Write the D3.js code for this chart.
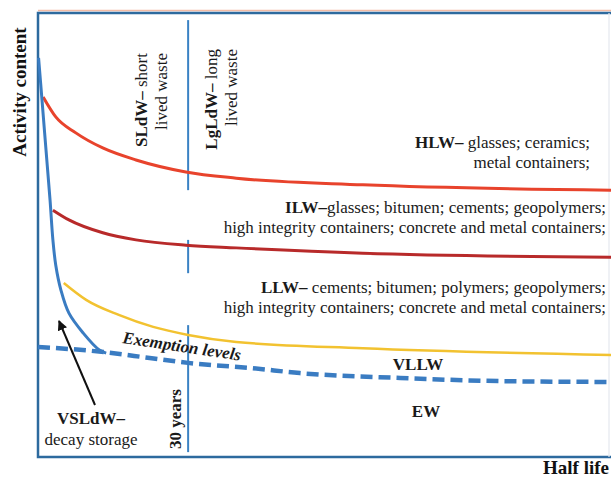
<!DOCTYPE html>
<html>
<head>
<meta charset="utf-8">
<script src="https://cdn.jsdelivr.net/npm/d3@7"></script>
<style>
    body { margin: 0; background: #fff; }
    svg { display: block; font-family: "Liberation Serif", "DejaVu Serif", serif; }
</style>
</head>
<body>
<div id="chart"></div>
<script>
// Curves in arbitrary units: x = half life (0-100), y = activity content (0-100)
const vsldwCurve = [[0.1, 89.9], [0.7, 80.4], [1.4, 69.1], [2.1, 57.9], [2.6, 48.9], [3.1, 43.2], [4.0, 37.6], [5.4, 32.4], [7.9, 27.9], [10.7, 24.1], [11.9, 23.4]];
const hlwCurve = [[0.9, 81.1], [3.1, 76.6], [6.6, 73.0], [11.3, 69.6], [17.1, 66.9], [25.8, 64.2], [34.6, 62.8], [56.7, 61.3], [100, 60.1]];
const ilwCurve = [[2.6, 55.6], [5.4, 53.4], [11.3, 50.5], [17.1, 48.9], [25.8, 47.7], [34.6, 47.1], [56.7, 45.9], [100, 45.0]];
const llwCurve = [[4.5, 39.2], [8.4, 35.4], [14.1, 32.0], [20.1, 29.3], [26.2, 27.5], [34.6, 25.9], [56.7, 24.5], [100, 23.0]];
const exemptionCurve = [[0, 24.8], [11.7, 23.6], [19.5, 22.3], [26.2, 21.2], [37.5, 20.0], [45.7, 18.9], [63.2, 17.8], [80.6, 17.1], [100, 16.9]];

// 30-year boundary, drawn in pieces between the labels
const boundaryX = 26.2;
const boundarySegments = [[98.4, 60.1], [48.9, 41.4], [29.7, 1.1]];

const hlwLabel = ['HLW–', ' glasses; ceramics;', 'metal containers;'];
const ilwLabel = ['ILW–', 'glasses; bitumen; cements; geopolymers;', 'high integrity containers; concrete and metal containers;'];
const llwLabel = ['LLW–', ' cements; bitumen; polymers; geopolymers;', 'high integrity containers; concrete and metal containers;'];

const W = 611, H = 477;
const plot = { left: 38, right: 611, top: 13, bottom: 457 };

const svg = d3.select('#chart').append('svg')
    .attr('width', W)
    .attr('height', H);

const x = d3.scaleLinear().domain([0, 100]).range([plot.left, plot.right]);
const y = d3.scaleLinear().domain([0, 100]).range([plot.bottom, plot.top]);

const line = d3.line()
    .x(d => x(d[0]))
    .y(d => y(d[1]))
    .curve(d3.curveMonotoneX);

// steep decay curve needs a spline that does not overshoot
const steepLine = d3.line()
    .x(d => x(d[0]))
    .y(d => y(d[1]))
    .curve(d3.curveCatmullRom.alpha(0.5));

// Frame
svg.append('line')
    .attr('x1', plot.left).attr('x2', W)
    .attr('y1', plot.top - 2.5).attr('y2', plot.top - 2.5)
    .attr('stroke', '#f2bca6').attr('stroke-width', 1.5);
svg.append('path')
    .attr('d', `M${W},${plot.top}H${plot.left}V${plot.bottom}H${W}`)
    .attr('fill', 'none')
    .attr('stroke', '#2d6a9e')
    .attr('stroke-width', 2.5);
svg.append('line')
    .attr('x1', 609).attr('x2', 609)
    .attr('y1', plot.top).attr('y2', plot.bottom)
    .attr('stroke', '#e4e8ee').attr('stroke-width', 1.2);

// Boundary line (30 years)
svg.selectAll('.boundary')
    .data(boundarySegments)
    .enter()
    .append('line')
    .attr('class', 'boundary')
    .attr('x1', x(boundaryX)).attr('x2', x(boundaryX))
    .attr('y1', d => y(d[0])).attr('y2', d => y(d[1]))
    .attr('stroke', '#3a82c4')
    .attr('stroke-width', 2);

// Curves
const curves = [
    { data: exemptionCurve, color: '#3a7cc2', width: 4.5, dash: '12,6', gen: line },
    { data: llwCurve, color: '#f2c230', width: 2.5, gen: line },
    { data: ilwCurve, color: '#b82a2a', width: 3, gen: line },
    { data: hlwCurve, color: '#e8432c', width: 3, gen: line },
    { data: vsldwCurve, color: '#3a7cc2', width: 3, gen: steepLine }
];

curves.forEach(c => {
    svg.append('path')
        .datum(c.data)
        .attr('fill', 'none')
        .attr('stroke', c.color)
        .attr('stroke-width', c.width)
        .attr('stroke-dasharray', c.dash || null)
        .attr('d', c.gen);
});

// Arrow to the decay-storage curve
svg.append('defs').append('marker')
    .attr('id', 'arrow')
    .attr('viewBox', '0 0 10 10')
    .attr('refX', 9).attr('refY', 5)
    .attr('markerWidth', 5).attr('markerHeight', 5)
    .attr('orient', 'auto')
    .append('path')
    .attr('d', 'M0,0L10,5L0,10z')
    .attr('fill', '#111');

svg.append('line')
    .attr('x1', 95).attr('y1', 405)
    .attr('x2', 59).attr('y2', 321)
    .attr('stroke', '#111')
    .attr('stroke-width', 2)
    .attr('marker-end', 'url(#arrow)');

// Text helpers
const fs = 17;

function twoLineRight(label, xEnd, y1, y2) {
    const t1 = svg.append('text')
        .attr('x', xEnd).attr('y', y1)
        .attr('text-anchor', 'end')
        .style('font-size', fs + 'px')
        .attr('fill', '#1a1a1a');
    t1.append('tspan').style('font-weight', 'bold').text(label[0]);
    t1.append('tspan').text(label[1]);
    svg.append('text')
        .attr('x', xEnd).attr('y', y2)
        .attr('text-anchor', 'end')
        .style('font-size', fs + 'px')
        .attr('fill', '#1a1a1a')
        .text(label[2]);
}

twoLineRight(hlwLabel, 590, 148, 168);
twoLineRight(ilwLabel, 606, 213, 233);
twoLineRight(llwLabel, 606, 293, 313);

// Vertical labels
function vertical(xBase, yEnd, boldPart, rest, size) {
    const t = svg.append('text')
        .attr('transform', `translate(${xBase},${yEnd}) rotate(-90)`)
        .attr('text-anchor', 'end')
        .style('font-size', (size || fs) + 'px')
        .attr('fill', '#1a1a1a');
    if (boldPart) t.append('tspan').style('font-weight', 'bold').text(boldPart);
    if (rest) t.append('tspan').text(rest);
}

vertical(147, 53, 'SLdW–', ' short');
vertical(167, 53, null, 'lived waste');
vertical(217, 49, 'LgLdW–', ' long');
vertical(237, 49, null, 'lived waste');

svg.append('text')
    .attr('transform', 'translate(181,419) rotate(-90)')
    .attr('text-anchor', 'middle')
    .style('font-size', fs + 'px')
    .style('font-weight', 'bold')
    .attr('fill', '#1a1a1a')
    .text('30 years');

// Axis titles
svg.append('text')
    .attr('transform', 'translate(26,92) rotate(-90)')
    .attr('text-anchor', 'middle')
    .style('font-size', '19px')
    .style('font-weight', 'bold')
    .attr('fill', '#111')
    .text('Activity content');

svg.append('text')
    .attr('x', 609).attr('y', 474)
    .attr('text-anchor', 'end')
    .style('font-size', '19px')
    .style('font-weight', 'bold')
    .attr('fill', '#111')
    .text('Half life');

// Region labels
svg.append('text')
    .attr('transform', 'translate(122,343) rotate(8.5)')
    .style('font-size', fs + 'px')
    .style('font-weight', 'bold')
    .style('font-style', 'italic')
    .attr('fill', '#1a1a1a')
    .text('Exemption levels');

svg.append('text')
    .attr('x', 418).attr('y', 370)
    .attr('text-anchor', 'middle')
    .style('font-size', fs + 'px')
    .style('font-weight', 'bold')
    .attr('fill', '#1a1a1a')
    .text('VLLW');

svg.append('text')
    .attr('x', 426).attr('y', 417)
    .attr('text-anchor', 'middle')
    .style('font-size', fs + 'px')
    .style('font-weight', 'bold')
    .attr('fill', '#1a1a1a')
    .text('EW');

svg.append('text')
    .attr('x', 91).attr('y', 424)
    .attr('text-anchor', 'middle')
    .style('font-size', fs + 'px')
    .style('font-weight', 'bold')
    .attr('fill', '#1a1a1a')
    .text('VSLdW–');

svg.append('text')
    .attr('x', 91).attr('y', 445)
    .attr('text-anchor', 'middle')
    .style('font-size', fs + 'px')
    .attr('fill', '#1a1a1a')
    .text('decay storage');
</script>
</body>
</html>
